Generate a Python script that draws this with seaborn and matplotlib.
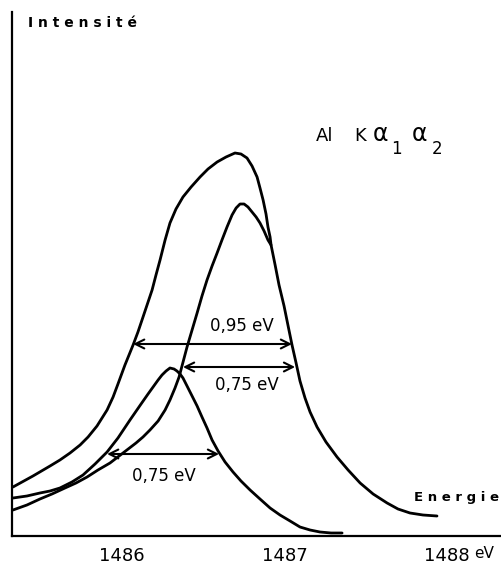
import matplotlib
matplotlib.use("Agg")
import matplotlib.pyplot as plt
import seaborn as sns
import pandas as pd

# ---- data (energy in eV, intensity in arbitrary units) ----
# total Al K alpha1,2 envelope
env_E = [1485.329, 1485.452, 1485.557, 1485.618, 1485.680, 1485.742,
         1485.791, 1485.846, 1485.908, 1485.945, 1485.975, 1486.018, 1486.068, 1486.098,
         1486.123, 1486.154, 1486.185, 1486.209, 1486.234, 1486.265, 1486.295, 1486.332,
         1486.375, 1486.425, 1486.480, 1486.529, 1486.585, 1486.640, 1486.695, 1486.732,
         1486.769, 1486.800, 1486.831, 1486.849, 1486.868, 1486.886, 1486.898, 1486.911,
         1486.917, 1486.942, 1486.966, 1486.997, 1487.022, 1487.046, 1487.071, 1487.095,
         1487.126, 1487.157, 1487.200, 1487.255, 1487.323, 1487.391, 1487.465, 1487.545,
         1487.631, 1487.698, 1487.772, 1487.852, 1487.938]
env_I = [12.25, 15.0, 17.5, 19.0, 20.75, 22.75,
         24.75, 27.5, 31.5, 34.75, 38.0, 42.75, 47.75, 51.0,
         54.0, 57.75, 61.5, 65.25, 69.0, 74.0, 78.25, 81.75,
         84.75, 87.25, 89.75, 91.75, 93.5, 94.75, 95.75, 95.5,
         94.5, 92.5, 89.75, 87.0, 84.0, 80.5, 77.25, 74.75,
         72.75, 67.75, 62.75, 57.5, 52.5, 47.75, 43.25, 38.75,
         34.5, 31.0, 27.25, 23.5, 19.75, 16.5, 13.25, 10.5,
         8.25, 6.75, 5.75, 5.25, 5.0]

# K alpha1 component (joins the envelope on its high-energy side)
ka1_E = [1485.329, 1485.415, 1485.495, 1485.569, 1485.649, 1485.717, 1485.785, 1485.852,
         1485.926, 1486.006, 1486.086, 1486.129, 1486.172, 1486.222, 1486.265, 1486.295,
         1486.326, 1486.351, 1486.369, 1486.400, 1486.431, 1486.462, 1486.492, 1486.523,
         1486.554, 1486.585, 1486.615, 1486.646, 1486.677, 1486.702, 1486.726, 1486.751,
         1486.775, 1486.800, 1486.825, 1486.849, 1486.874, 1486.898, 1486.917]
ka1_I = [6.5, 7.75, 9.25, 10.5, 12.0, 13.25, 14.75, 16.5,
         18.25, 20.75, 23.25, 24.75, 26.5, 28.75, 31.5, 34.0,
         37.0, 39.75, 42.5, 47.25, 51.5, 55.75, 60.0, 64.0,
         67.5, 70.75, 74.0, 77.25, 80.25, 82.0, 83.0, 83.0,
         82.25, 81.0, 79.75, 78.25, 76.25, 74.0, 72.75]

# K alpha2 component
ka2_E = [1485.329, 1485.415, 1485.495, 1485.557, 1485.618, 1485.692, 1485.760, 1485.834,
         1485.908, 1485.975, 1486.049, 1486.117, 1486.160, 1486.191, 1486.222, 1486.246,
         1486.271, 1486.295, 1486.320, 1486.338, 1486.357, 1486.375, 1486.400, 1486.431,
         1486.462, 1486.492, 1486.523, 1486.554, 1486.591, 1486.634, 1486.683, 1486.732,
         1486.788, 1486.849, 1486.911, 1486.972, 1487.034, 1487.095, 1487.157, 1487.218,
         1487.286, 1487.354]
ka2_I = [9.5, 10.0, 10.75, 11.25, 12.0, 13.5, 15.25, 18.0,
         21.0, 24.5, 29.0, 33.0, 35.5, 37.25, 39.0, 40.25,
         41.25, 42.0, 41.75, 41.25, 40.5, 39.5, 37.5, 35.0,
         32.5, 29.75, 27.0, 24.0, 21.25, 18.5, 16.0, 13.75,
         11.5, 9.25, 7.0, 5.25, 3.75, 2.25, 1.5, 1.0,
         0.75, 0.75]

# FWHM markers
fwhm_y = [48.0, 42.25, 20.5]
fwhm_left = [1486.068, 1486.375, 1485.908]
fwhm_right = [1487.046, 1487.065, 1486.597]
fwhm_labels = ["0,95 eV", "0,75 eV", "0,75 eV"]

xticks = [1486, 1487, 1488]
xtick_labels = ["1486", "1487", "1488"]

# ---- figure ----
sns.set_style("white")
plt.rcParams["font.family"] = ["DejaVu Sans"]
plt.rcParams["text.color"] = "black"
plt.rcParams["xtick.color"] = "black"

W, H = 502, 564
fig = plt.figure(figsize=(W / 100, H / 100), dpi=100)
ax = fig.add_axes([12 / W, 28 / H, 490 / W, 524 / H])

for E, I in [(env_E, env_I), (ka1_E, ka1_I), (ka2_E, ka2_I)]:
    df = pd.DataFrame({"E": E, "I": I})
    sns.lineplot(data=df, x="E", y="I", sort=False, estimator=None,
                 color="black", lw=2.0, ax=ax)

for y, x1, x2 in zip(fwhm_y, fwhm_left, fwhm_right):
    ax.annotate("", xy=(x2, y), xytext=(x1, y),
                arrowprops=dict(arrowstyle="<->", lw=1.5, color="black",
                                mutation_scale=16, shrinkA=0, shrinkB=0))

ax.set_xlim(1485.323, 1488.338)
ax.set_ylim(0, 131)
ax.set_xlabel("")
ax.set_ylabel("")
ax.set_yticks([])
ax.set_xticks(xticks)
ax.set_xticklabels(xtick_labels, fontsize=13, color="black")
ax.tick_params(axis="x", direction="in", length=7.5, width=1.5, pad=8, color="black")
for s in ["top", "right"]:
    ax.spines[s].set_visible(False)
for s in ["left", "bottom"]:
    ax.spines[s].set_linewidth(1.6)
    ax.spines[s].set_color("black")

def ft(px, py, s, **kw):
    fig.text(px / W, 1 - py / H, s, color="black", **kw)

# FWHM labels
label_pos = [(242, 326), (247, 385), (164, 476)]
for (px, py), lab in zip(label_pos, fwhm_labels):
    ft(px, py, lab, ha="center", va="center", fontsize=12)

ft(28, 16, "I n t e n s i t é", ha="left", va="top", fontsize=10, fontweight="bold")
ft(414, 491, "E n e r g i e", ha="left", va="top", fontsize=9.5, fontweight="bold")
ft(474, 553, "eV", ha="left", va="center", fontsize=11)

# Al K alpha1 alpha2
ft(316, 141, "Al", ha="left", va="baseline", fontsize=13)
ft(354, 141, "K", ha="left", va="baseline", fontsize=13)
ft(373, 141, "α", ha="left", va="baseline", fontsize=17)
ft(391, 154, "1", ha="left", va="baseline", fontsize=12)
ft(412, 141, "α", ha="left", va="baseline", fontsize=17)
ft(432, 154, "2", ha="left", va="baseline", fontsize=12)

fig.savefig("out.png", dpi=100)
